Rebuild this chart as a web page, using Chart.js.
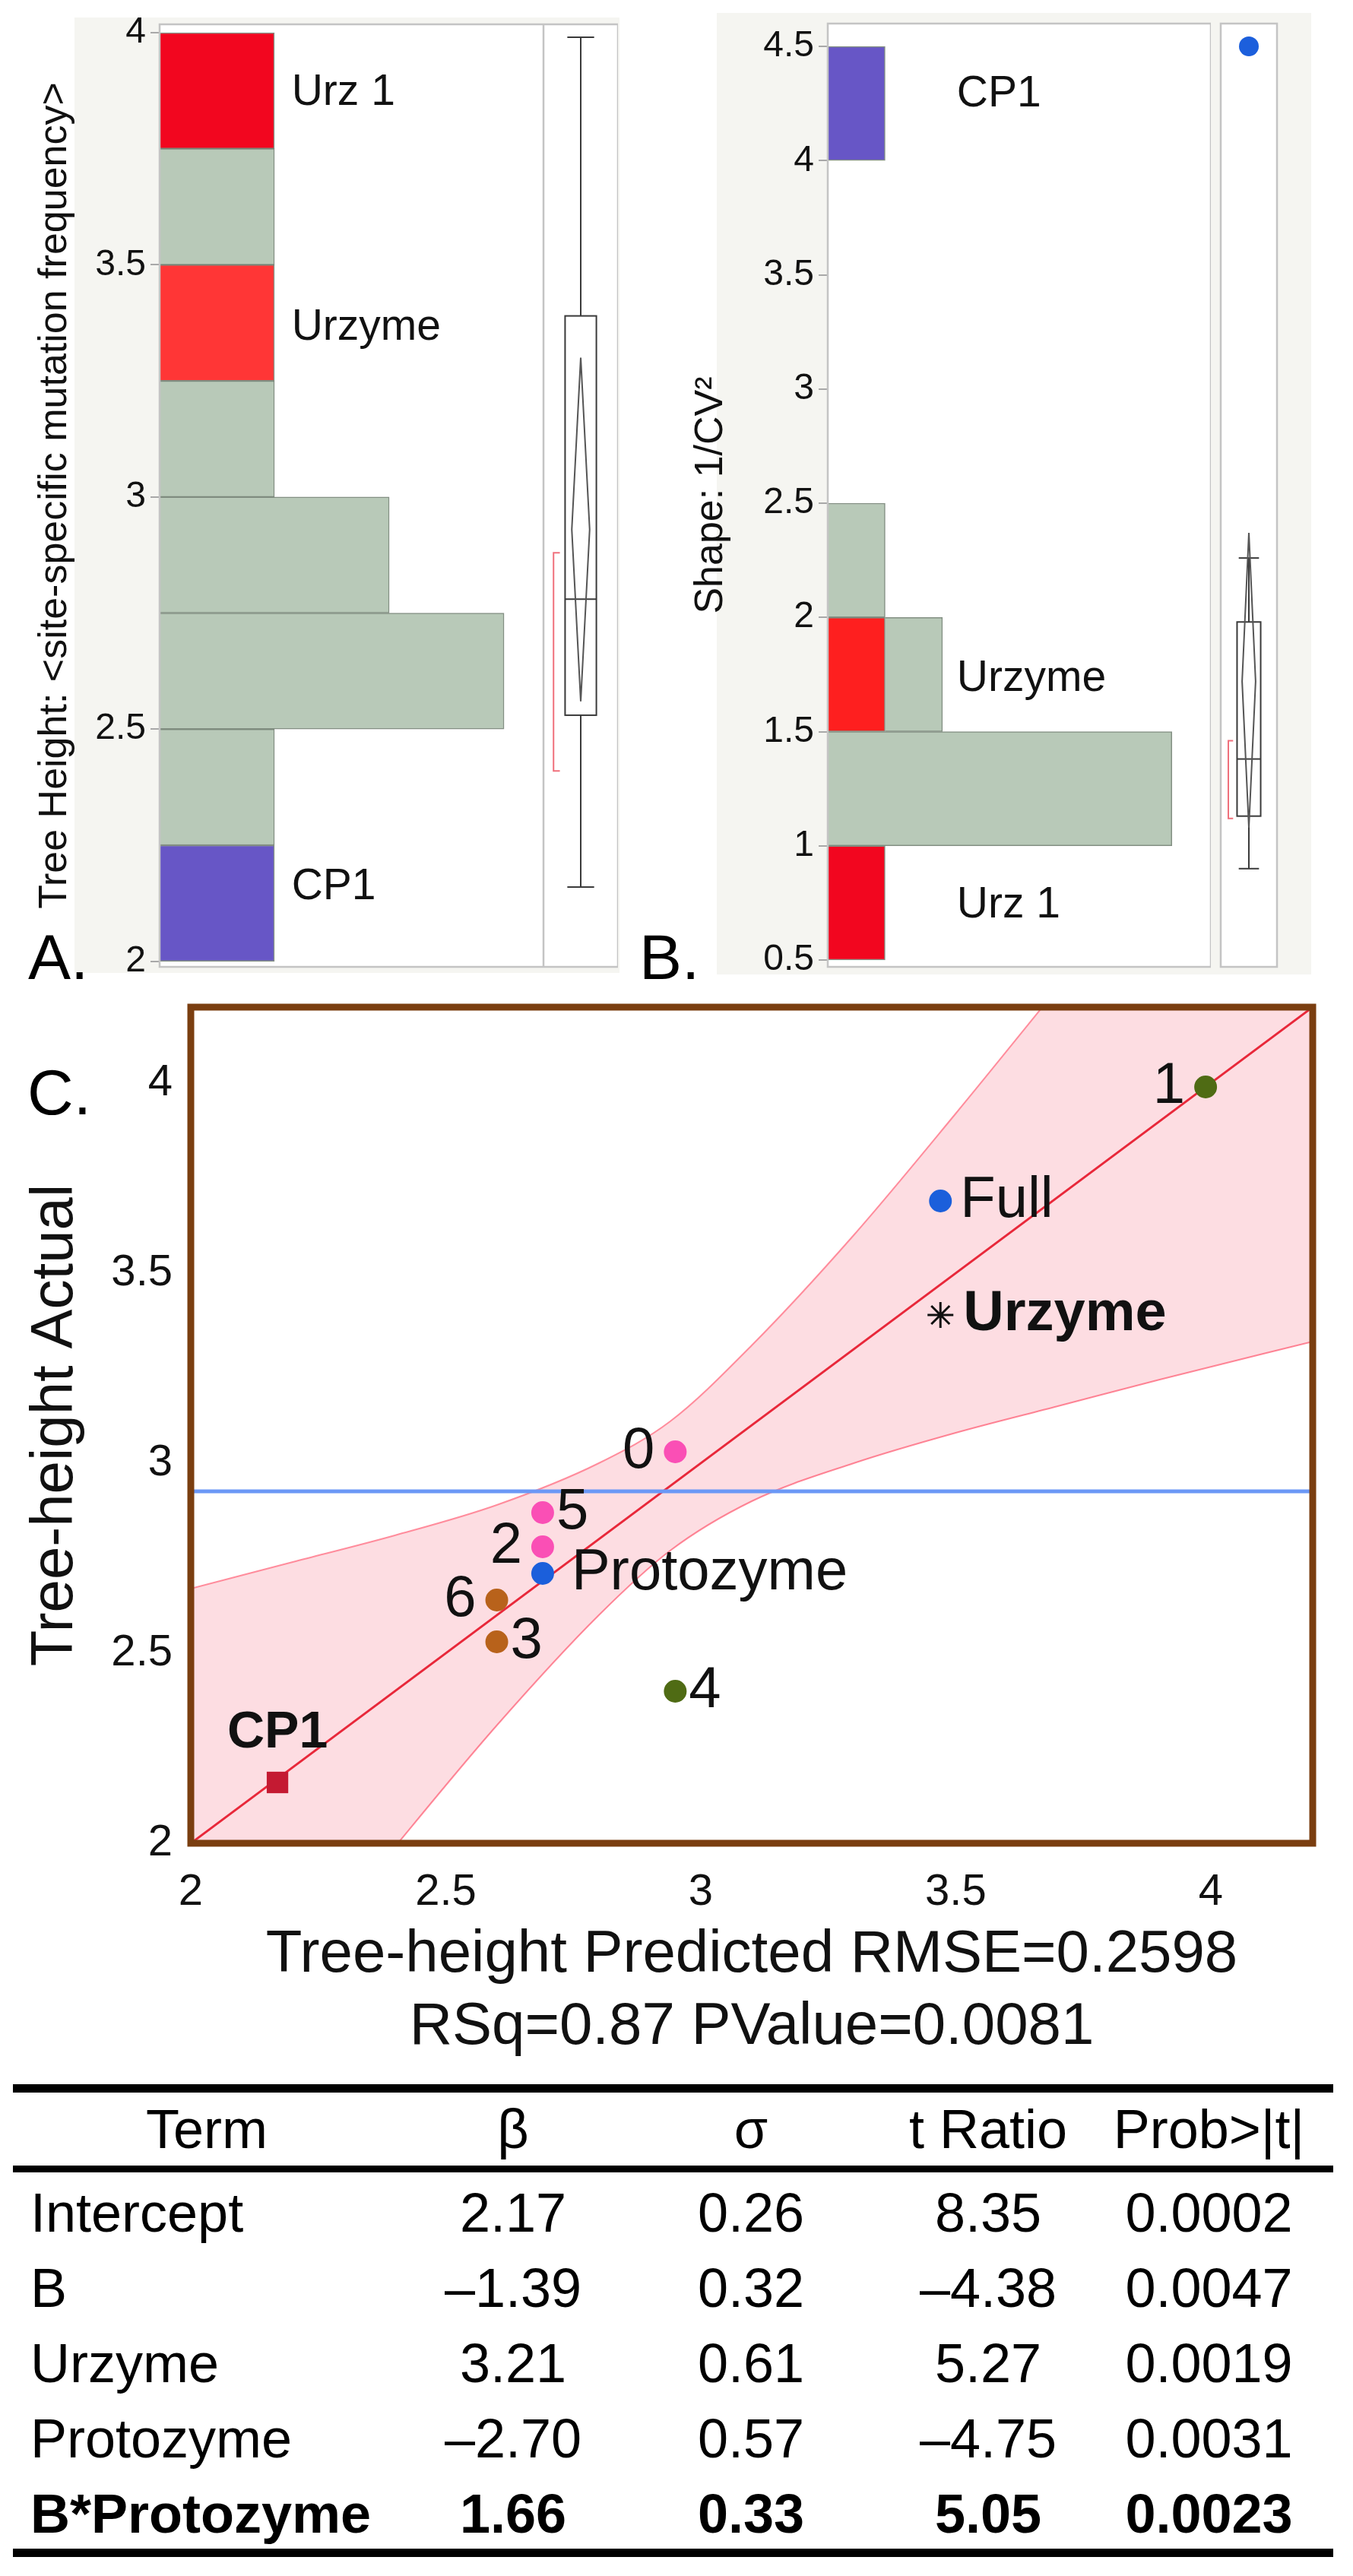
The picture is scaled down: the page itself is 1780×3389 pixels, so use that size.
<!DOCTYPE html>
<html>
<head>
<meta charset="utf-8">
<script src="https://cdn.jsdelivr.net/npm/chart.js"></script>
<style>
  body { margin: 0; width: 1780px; height: 3389px; background: #fff; position: relative; overflow: hidden;
         font-family: "Liberation Sans", Arial, Helvetica, sans-serif; color: #000; }
  canvas { position: absolute; }
  .bg { position: absolute; background: #f5f5f1; }
  .tag { position: absolute; font-size: 84px; line-height: 84px; }
  #coef { position: absolute; left: 17px; top: 2742px; width: 1737px; table-layout: fixed;
          border-collapse: separate; border-spacing: 0; border-top: 11px solid #000; font-size: 72px; }
  #coef th { font-weight: normal; height: 96px; line-height: 96px; padding: 0; border-bottom: 9px solid #000; text-align: center; }
  #coef td { height: 99px; line-height: 99px; padding: 0; text-align: center; white-space: nowrap; }
  #coef td span { position: relative; top: 4px; }
  #coef td:first-child { text-align: left; padding-left: 23px; }
  #coef th:last-child, #coef td:last-child { padding-right: 20px; }
  #coef tr:last-child td { border-bottom: 11px solid #000; font-weight: bold; }
</style>
</head>
<body>
<div class="bg" style="left:98px;top:23px;width:717px;height:1257px"></div>
<div class="bg" style="left:943px;top:17px;width:782px;height:1265px"></div>

<canvas id="histA" width="715" height="1310" style="left:0;top:0"></canvas>
<canvas id="boxA" width="98" height="1310" style="left:715px;top:0"></canvas>
<canvas id="histB" width="713" height="1310" style="left:880px;top:0"></canvas>
<canvas id="boxB" width="100" height="1310" style="left:1593px;top:0"></canvas>
<canvas id="fitC" width="1780" height="1480" style="left:0;top:1260px"></canvas>

<div class="tag" style="left:37px;top:1217px">A.</div>
<div class="tag" style="left:841px;top:1217px">B.</div>
<div class="tag" style="left:36px;top:1395px">C.</div>

<table id="coef">
  <colgroup><col style="width:510px"><col style="width:296px"><col style="width:330px"><col style="width:294px"><col style="width:307px"></colgroup>
  <thead><tr><th>Term</th><th>β</th><th>σ</th><th>t Ratio</th><th>Prob&gt;|t|</th></tr></thead>
  <tbody></tbody>
</table>

<script>
// ---- panel A: tree height histogram (bins of 0.25) ----
const binsA = [2.125, 2.375, 2.625, 2.875, 3.125, 3.375, 3.625, 3.875];
const cp1CountA = [1, 0, 0, 0, 0, 0, 0, 0];
const urzymeCountA = [0, 0, 0, 0, 0, 1, 0, 0];
const urz1CountA = [0, 0, 0, 0, 0, 0, 0, 1];
const otherCountA = [0, 1, 3, 2, 1, 0, 1, 0];
const ticksA = [2, 2.5, 3, 3.5, 4];
const boxStatsA = [2.16, 2.53, 2.78, 3.39, 3.99];   // min, q1, median, q3, max
const meanDiamondA = [2.56, 2.93, 3.30];
const shortestHalfA = [2.41, 2.88];
const outliersA = [];

// ---- panel B: shape 1/CV^2 histogram (bins of 0.5) ----
const binsB = [0.75, 1.25, 1.75, 2.25, 2.75, 3.25, 3.75, 4.25];
const urz1CountB = [1, 0, 0, 0, 0, 0, 0, 0];
const urzymeCountB = [0, 0, 1, 0, 0, 0, 0, 0];
const cp1CountB = [0, 0, 0, 0, 0, 0, 0, 1];
const otherCountB = [0, 6, 1, 1, 0, 0, 0, 0];
const ticksB = [0.5, 1, 1.5, 2, 2.5, 3, 3.5, 4, 4.5];
const boxStatsB = [0.90, 1.13, 1.38, 1.98, 2.26];
const meanDiamondB = [1.08, 1.72, 2.37];
const shortestHalfB = [1.12, 1.46];
const outliersB = [4.5];

// ---- panel C: leverage plot ----
const pointNames = ['CP1', '3', '6', 'Protozyme', '2', '5', '0', '4', 'Full', 'Urzyme', '1'];
const predicted = [2.17, 2.60, 2.60, 2.69, 2.69, 2.69, 2.95, 2.95, 3.47, 3.47, 3.99];
const actual    = [2.16, 2.53, 2.64, 2.71, 2.78, 2.87, 3.03, 2.40, 3.69, 3.39, 3.99];
const pointGroup = ['cp1', 'brown', 'brown', 'blue', 'pink', 'pink', 'pink', 'olive', 'blue', 'urzyme', 'olive'];
const fitX = [2, 4.2];
const fitY = [2, 4.2];
const meanActual = 2.926;
const bandX     = [2.0, 2.2, 2.4, 2.6, 2.8, 2.94, 3.1, 3.3, 3.5, 3.7, 3.9, 4.2];
const bandUpper = [2.67, 2.74, 2.81, 2.89, 3.00, 3.11, 3.31, 3.60, 3.92, 4.25, 4.58, 5.08];
const bandLower = [1.33, 1.66, 1.99, 2.31, 2.60, 2.77, 2.90, 3.00, 3.08, 3.15, 3.22, 3.32];
const ticksCX = [2, 2.5, 3, 3.5, 4];
const ticksCY = [2, 2.5, 3, 3.5, 4];

// ---- table ----
const terms = ['Intercept', 'B', 'Urzyme', 'Protozyme', 'B*Protozyme'];
const beta  = ['2.17', '–1.39', '3.21', '–2.70', '1.66'];
const sigma = ['0.26', '0.32', '0.61', '0.57', '0.33'];
const tRatio = ['8.35', '–4.38', '5.27', '–4.75', '5.05'];
const probT = ['0.0002', '0.0047', '0.0019', '0.0031', '0.0023'];

const FAMILY = '"Liberation Sans", Arial, Helvetica, sans-serif';
Chart.defaults.font.family = FAMILY;
Chart.defaults.color = '#111';
Chart.defaults.animation = false;
Chart.defaults.plugins.legend.display = false;
Chart.defaults.plugins.tooltip.enabled = false;

const PURPLE = '#6756c6', RED = '#f2061f', SAGE = '#b8c9b8';
const plainNum = v => String(v);

// white plot area + frame
const plotFrame = {
  id: 'plotFrame',
  beforeDraw(chart) {
    const {ctx, chartArea: a} = chart;
    ctx.save();
    ctx.fillStyle = '#fff';
    ctx.fillRect(a.left, a.top, a.width, a.height);
    ctx.restore();
  },
  afterDraw(chart, args, o) {
    const {ctx, chartArea: a} = chart;
    ctx.save();
    ctx.strokeStyle = o.color;
    ctx.lineWidth = o.width;
    ctx.strokeRect(a.left, a.top, a.width, a.height);
    ctx.restore();
  }
};

// text next to highlighted bins
const binLabels = {
  id: 'binLabels',
  afterDatasetsDraw(chart, args, o) {
    const {ctx, scales: {x, y}} = chart;
    ctx.save();
    ctx.font = '57px ' + FAMILY;
    ctx.fillStyle = '#111';
    ctx.textBaseline = 'middle';
    o.items.forEach(([text, yv]) => ctx.fillText(text, x.getPixelForValue(o.at), y.getPixelForValue(yv)));
    ctx.restore();
  }
};

// JMP style outlier box plot
const boxPlot = {
  id: 'boxPlot',
  beforeDatasetsDraw(chart, args, o) {
    const {ctx, scales: {x, y}} = chart;
    const X = v => x.getPixelForValue(v), Y = v => y.getPixelForValue(v);
    const [lo, q1, med, q3, hi] = o.stats;
    const [dLo, mean, dHi] = o.diamond;
    const [sLo, sHi] = o.shortest;
    const seg = (x1, y1, x2, y2) => { ctx.beginPath(); ctx.moveTo(x1, y1); ctx.lineTo(x2, y2); ctx.stroke(); };
    ctx.save();
    ctx.strokeStyle = '#3a3a3a';
    ctx.lineWidth = 2;
    seg(X(0.5), Y(hi), X(0.5), Y(q3));
    seg(X(0.5), Y(q1), X(0.5), Y(lo));
    seg(X(0.32), Y(hi), X(0.68), Y(hi));
    seg(X(0.32), Y(lo), X(0.68), Y(lo));
    ctx.strokeRect(X(0.29), Y(q3), X(0.71) - X(0.29), Y(q1) - Y(q3));
    seg(X(0.29), Y(med), X(0.71), Y(med));
    ctx.strokeStyle = '#555';
    ctx.beginPath();
    ctx.moveTo(X(0.5), Y(dHi));
    ctx.lineTo(X(0.62), Y(mean));
    ctx.lineTo(X(0.5), Y(dLo));
    ctx.lineTo(X(0.38), Y(mean));
    ctx.closePath();
    ctx.stroke();
    ctx.strokeStyle = '#f0707c';
    ctx.beginPath();
    ctx.moveTo(X(0.22), Y(sHi));
    ctx.lineTo(X(0.135), Y(sHi));
    ctx.lineTo(X(0.135), Y(sLo));
    ctx.lineTo(X(0.22), Y(sLo));
    ctx.stroke();
    ctx.restore();
  }
};

const binSet = (label, bins, counts, color) => ({
  label,
  backgroundColor: color,
  borderColor: 'rgba(100,115,100,0.8)',
  borderWidth: 1.5,
  barPercentage: 1,
  categoryPercentage: 1,
  data: bins.map((b, i) => ({x: counts[i], y: b}))
});

function histOptions(p) {
  return {
    responsive: false,
    indexAxis: 'y',
    layout: {padding: {top: p.top, bottom: 38, left: 0, right: 0}},
    scales: {
      x: {type: 'linear', min: 0, max: p.xMax, stacked: true, display: false},
      y: {
        type: 'linear', min: p.yMin, max: p.yMax, stacked: true, offset: false,
        afterBuildTicks: s => { s.ticks = p.ticks.map(v => ({value: v})); },
        afterFit: s => { s.width = p.axisWidth; },
        grid: {drawOnChartArea: false, drawTicks: true, tickLength: 12, color: '#a8a8a8', lineWidth: 2, offset: false},
        border: {display: false},
        ticks: {font: {size: 48, lineHeight: 1}, color: '#111', padding: 6, callback: plainNum},
        title: {display: true, text: p.title, font: {size: 52}, color: '#111', padding: {top: p.titlePad, bottom: 0}}
      }
    },
    plugins: {
      plotFrame: {color: '#c4c4c4', width: 2.5},
      binLabels: {at: p.labelAt, items: p.labels}
    }
  };
}

function boxChart(id, yMin, yMax, top, stats, diamond, shortest, outliers) {
  return new Chart(document.getElementById(id), {
    type: 'scatter',
    data: {datasets: [{data: outliers.map(v => ({x: 0.5, y: v})), pointRadius: 13, backgroundColor: '#1c5fdc', borderWidth: 0}]},
    options: {
      responsive: false,
      layout: {padding: {top: top, bottom: 38, left: 0, right: 0}},
      scales: {
        x: {type: 'linear', min: 0, max: 1, display: false},
        y: {type: 'linear', min: yMin, max: yMax, display: false}
      },
      plugins: {
        plotFrame: {color: '#c4c4c4', width: 2.5},
        boxPlot: {stats, diamond, shortest}
      }
    },
    plugins: [plotFrame, boxPlot]
  });
}

new Chart(document.getElementById('histA'), {
  type: 'bar',
  data: {datasets: [
    binSet('CP1', binsA, cp1CountA, PURPLE),
    binSet('Urzyme', binsA, urzymeCountA, '#ff3636'),
    binSet('Urz 1', binsA, urz1CountA, RED),
    binSet('Other', binsA, otherCountA, SAGE)
  ]},
  options: histOptions({yMin: 1.988, yMax: 4.018, xMax: 3.344, top: 32, ticks: ticksA, axisWidth: 210,
    title: 'Tree Height: <site-specific mutation frequency>', titlePad: 41,
    labelAt: 1.15, labels: [['Urz 1', 3.87], ['Urzyme', 3.365], ['CP1', 2.16]]}),
  plugins: [plotFrame, binLabels]
});
boxChart('boxA', 1.988, 4.018, 32, boxStatsA, meanDiamondA, shortestHalfA, outliersA);

new Chart(document.getElementById('histB'), {
  type: 'bar',
  data: {datasets: [
    binSet('Urz 1', binsB, urz1CountB, RED),
    binSet('Urzyme', binsB, urzymeCountB, '#fe1f1f'),
    binSet('CP1', binsB, cp1CountB, PURPLE),
    binSet('Other', binsB, otherCountB, SAGE)
  ]},
  options: histOptions({yMin: 0.47, yMax: 4.6, xMax: 6.68, top: 31, ticks: ticksB, axisWidth: 209,
    title: 'Shape: 1/CV²', titlePad: 24,
    labelAt: 2.25, labels: [['CP1', 4.29], ['Urzyme', 1.73], ['Urz 1', 0.74]]}),
  plugins: [plotFrame, binLabels]
});
boxChart('boxB', 0.47, 4.6, 31, boxStatsB, meanDiamondB, shortestHalfB, outliersB);

// ---- panel C ----
const GROUP = {
  cp1:    {color: '#c41a32', style: 'rect', r: 20, bw: 0},
  brown:  {color: '#b8621b', style: 'circle', r: 15, bw: 0},
  blue:   {color: '#1b5fdb', style: 'circle', r: 15, bw: 0},
  pink:   {color: '#fa4fb5', style: 'circle', r: 15, bw: 0},
  olive:  {color: '#4f6b14', style: 'circle', r: 15, bw: 0},
  urzyme: {color: '#111111', style: 'star', r: 17, bw: 3}
};
const tagPlace = {
  CP1: {side: 'up', bold: true, size: 68},
  '3': {side: 'right'}, '6': {side: 'left'}, Protozyme: {side: 'right', gap: 38},
  '2': {side: 'left'}, '5': {side: 'right'}, '0': {side: 'left'}, '4': {side: 'right'},
  Full: {side: 'right', gap: 26}, Urzyme: {side: 'right', bold: true, size: 74, gap: 30}, '1': {side: 'left'}
};

const pointTags = {
  id: 'pointTags',
  afterDatasetsDraw(chart) {
    const {ctx} = chart;
    const meta = chart.getDatasetMeta(0);
    ctx.save();
    ctx.fillStyle = '#111';
    meta.data.forEach((pt, i) => {
      const p = tagPlace[pointNames[i]] || {side: 'right'};
      ctx.font = (p.bold ? 'bold ' : '') + (p.size || 76) + 'px ' + FAMILY;
      if (p.side === 'up') {
        ctx.textAlign = 'center';
        ctx.textBaseline = 'alphabetic';
        ctx.fillText(pointNames[i], pt.x, pt.y - 46);
      } else if (p.side === 'left') {
        ctx.textAlign = 'right';
        ctx.textBaseline = 'middle';
        ctx.fillText(pointNames[i], pt.x - (p.gap || 27), pt.y);
      } else {
        ctx.textAlign = 'left';
        ctx.textBaseline = 'middle';
        ctx.fillText(pointNames[i], pt.x + (p.gap || 18), pt.y);
      }
    });
    ctx.restore();
  }
};

new Chart(document.getElementById('fitC'), {
  type: 'scatter',
  data: {datasets: [
    {
      label: 'runs', order: 0,
      data: predicted.map((p, i) => ({x: p, y: actual[i]})),
      pointBackgroundColor: pointGroup.map(g => GROUP[g].color),
      pointBorderColor: pointGroup.map(g => GROUP[g].color),
      pointBorderWidth: pointGroup.map(g => GROUP[g].bw),
      pointRadius: pointGroup.map(g => GROUP[g].r),
      pointStyle: pointGroup.map(g => GROUP[g].style)
    },
    {
      type: 'line', label: 'mean', order: 1,
      data: fitX.map(x => ({x, y: meanActual})),
      borderColor: '#6b98f6', borderWidth: 5, pointRadius: 0
    },
    {
      type: 'line', label: 'fit', order: 2,
      data: fitX.map((x, i) => ({x, y: fitY[i]})),
      borderColor: '#e8283a', borderWidth: 3, pointRadius: 0
    },
    {
      type: 'line', label: 'upper', order: 3,
      data: bandX.map((x, i) => ({x, y: bandUpper[i]})),
      borderColor: '#ff8c9c', borderWidth: 2, pointRadius: 0,
      cubicInterpolationMode: 'monotone',
      fill: '+1', backgroundColor: 'rgba(240,40,70,0.155)'
    },
    {
      type: 'line', label: 'lower', order: 4,
      data: bandX.map((x, i) => ({x, y: bandLower[i]})),
      borderColor: '#ff8c9c', borderWidth: 2, pointRadius: 0,
      cubicInterpolationMode: 'monotone', fill: false
    }
  ]},
  options: {
    responsive: false,
    layout: {padding: {top: 65, right: 53, left: 0, bottom: 0}},
    scales: {
      x: {
        type: 'linear', min: 2, max: 4.2,
        afterBuildTicks: s => { s.ticks = ticksCX.map(v => ({value: v})); },
        afterFit: s => { s.height = 315; },
        grid: {display: false, drawTicks: false},
        border: {display: false},
        ticks: {font: {size: 58}, color: '#111', padding: 30, callback: plainNum},
        title: {display: true, text: ['Tree-height Predicted RMSE=0.2598', 'RSq=0.87 PValue=0.0081'],
                font: {size: 78, lineHeight: 1.22}, color: '#111', padding: {top: 0, bottom: 25}}
      },
      y: {
        type: 'linear', min: 2, max: 4.2,
        afterBuildTicks: s => { s.ticks = ticksCY.map(v => ({value: v})); },
        afterFit: s => { s.width = 251; },
        grid: {display: false, drawTicks: false},
        border: {display: false},
        ticks: {font: {size: 58, lineHeight: 1}, color: '#111', padding: 24, callback: plainNum},
        title: {display: true, text: 'Tree-height Actual', font: {size: 78}, color: '#111', padding: {top: 27, bottom: 0}}
      }
    },
    plugins: {plotFrame: {color: '#7a3e10', width: 9}}
  },
  plugins: [plotFrame, pointTags]
});

// ---- coefficient table ----
const tbody = document.querySelector('#coef tbody');
terms.forEach((t, i) => {
  const tr = document.createElement('tr');
  [t, beta[i], sigma[i], tRatio[i], probT[i]].forEach(v => {
    const td = document.createElement('td');
    const span = document.createElement('span');
    span.textContent = v;
    td.appendChild(span);
    tr.appendChild(td);
  });
  tbody.appendChild(tr);
});
</script>
</body>
</html>
